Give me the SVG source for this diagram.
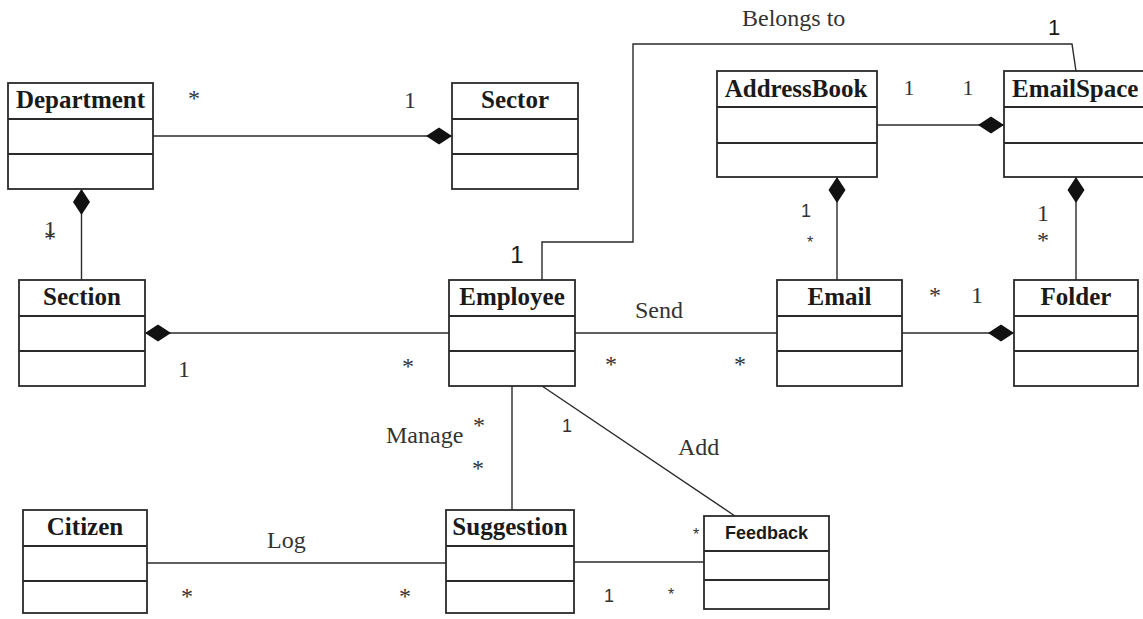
<svg xmlns="http://www.w3.org/2000/svg" width="1143" height="619" viewBox="0 0 1143 619">
  <style>
    .box { fill: #ffffff; stroke: #2a2a2a; stroke-width: 1.8; }
    .div { stroke: #2a2a2a; stroke-width: 1.8; }
    .title { font-family: "Liberation Serif", "Times New Roman", serif; font-weight: bold; font-size: 25px; fill: #1a1a1a; text-anchor: middle; }
    .title-sans { font-family: "Liberation Sans", Arial, sans-serif; font-weight: bold; font-size: 18px; fill: #1a1a1a; text-anchor: middle; }
    .link { fill: none; stroke: #2a2a2a; stroke-width: 1.4; }
    .comp { marker-start: url(#diamond); }
    .lbl { font-family: "Liberation Serif", "Times New Roman", serif; font-size: 24px; fill: #333333; }
    .mult { font-family: "Liberation Serif", "Times New Roman", serif; font-size: 24px; fill: #333333; text-anchor: middle; }
    .mult-s { font-family: "Liberation Sans", Arial, sans-serif; font-size: 18px; fill: #333333; text-anchor: middle; }
    .mult-l { font-family: "Liberation Sans", Arial, sans-serif; font-size: 24px; fill: #1a1a1a; text-anchor: middle; }
  </style>
  <defs>
    <!-- filled composition diamond, drawn from the path start outward -->
    <marker id="diamond" viewBox="0 -9 26 18" refX="0" refY="0" markerWidth="26" markerHeight="18" markerUnits="userSpaceOnUse" orient="auto">
      <path d="M0,0 L13,-8.5 L26,0 L13,8.5 Z" fill="#111111"/>
    </marker>
  </defs>
  <rect x="0" y="0" width="1143" height="619" fill="#ffffff"/>

  <g id="connectors">
    <!-- Department composed into Sector -->
    <path class="link comp" d="M452,136 L153,136"/>
    <!-- Section composed into Department -->
    <path class="link comp" d="M81.5,189 L81.5,280"/>
    <!-- Employee composed into Section -->
    <path class="link comp" d="M145,333 L449,333"/>
    <!-- Employee belongs to EmailSpace -->
    <path class="link" d="M542,280 L542,242 L633,242 L633,44 L1072,44 L1076,71"/>
    <!-- AddressBook composed into EmailSpace -->
    <path class="link comp" d="M1004,125 L877,125"/>
    <!-- Email composed into AddressBook -->
    <path class="link comp" d="M837,177 L837,280"/>
    <!-- Folder composed into EmailSpace -->
    <path class="link comp" d="M1076,177 L1076,280"/>
    <!-- Email composed into Folder -->
    <path class="link comp" d="M1014,333 L902,333"/>
    <!-- Employee sends Email -->
    <path class="link" d="M575,333 L777,333"/>
    <!-- Employee manages Suggestion -->
    <path class="link" d="M512,386 L512,511"/>
    <!-- Employee adds Feedback -->
    <path class="link" d="M542,386 L735,516"/>
    <!-- Citizen logs Suggestion -->
    <path class="link" d="M147,563 L446,563"/>
    <!-- Suggestion to Feedback -->
    <path class="link" d="M574,562 L704,562"/>
  </g>

  <g id="labels">
    <text class="mult" x="194" y="106">*</text>
    <text class="mult" x="410" y="108">1</text>
    <text class="mult" x="50" y="237">1</text>
    <text class="mult" x="50" y="246">*</text>
    <text class="mult" x="184" y="377">1</text>
    <text class="mult" x="408" y="374">*</text>
    <text class="mult-l" x="517" y="263">1</text>
    <text class="lbl" x="742" y="26">Belongs to</text>
    <text class="mult-l" x="1054" y="35" style="font-size:22px">1</text>
    <text class="mult" x="909" y="95" style="font-size:22px">1</text>
    <text class="mult" x="968" y="95" style="font-size:22px">1</text>
    <text class="mult-s" x="806" y="217">1</text>
    <text class="mult-s" x="810" y="248" style="font-size:16px">*</text>
    <text class="mult" x="1043" y="221">1</text>
    <text class="mult" x="1043" y="248">*</text>
    <text class="lbl" x="635" y="318">Send</text>
    <text class="mult" x="611" y="372">*</text>
    <text class="mult" x="740" y="372">*</text>
    <text class="mult" x="935" y="303">*</text>
    <text class="mult" x="977" y="303">1</text>
    <text class="lbl" x="386" y="443">Manage</text>
    <text class="mult" x="479" y="433">*</text>
    <text class="mult" x="478" y="476">*</text>
    <text class="mult-s" x="567" y="432">1</text>
    <text class="lbl" x="678" y="455">Add</text>
    <text class="lbl" x="267" y="548">Log</text>
    <text class="mult" x="187" y="604">*</text>
    <text class="mult" x="405" y="604">*</text>
    <text class="mult-s" x="609" y="602">1</text>
    <text class="mult-s" x="671" y="600" style="font-size:16px">*</text>
    <text class="mult-s" x="696" y="540" style="font-size:16px">*</text>
  </g>

  <g id="node-department">
    <rect class="box" x="8" y="83" width="145" height="106"/>
    <line class="div" x1="8" y1="119" x2="153" y2="119"/>
    <line class="div" x1="8" y1="154" x2="153" y2="154"/>
    <text class="title" x="80.5" y="108">Department</text>
  </g>
  <g id="node-sector">
    <rect class="box" x="452" y="83" width="126" height="106"/>
    <line class="div" x1="452" y1="119" x2="578" y2="119"/>
    <line class="div" x1="452" y1="154" x2="578" y2="154"/>
    <text class="title" x="515" y="108">Sector</text>
  </g>
  <g id="node-addressbook">
    <rect class="box" x="717" y="71" width="160" height="106"/>
    <line class="div" x1="717" y1="107" x2="877" y2="107"/>
    <line class="div" x1="717" y1="143" x2="877" y2="143"/>
    <text class="title" x="796" y="97">AddressBook</text>
  </g>
  <g id="node-emailspace">
    <rect class="box" x="1004" y="71" width="150" height="106"/>
    <line class="div" x1="1004" y1="107" x2="1154" y2="107"/>
    <line class="div" x1="1004" y1="143" x2="1154" y2="143"/>
    <text class="title" x="1012" y="97" style="text-anchor:start">EmailSpace</text>
  </g>
  <g id="node-section">
    <rect class="box" x="19" y="280" width="126" height="106"/>
    <line class="div" x1="19" y1="316" x2="145" y2="316"/>
    <line class="div" x1="19" y1="351" x2="145" y2="351"/>
    <text class="title" x="82" y="305">Section</text>
  </g>
  <g id="node-employee">
    <rect class="box" x="449" y="280" width="126" height="106"/>
    <line class="div" x1="449" y1="316" x2="575" y2="316"/>
    <line class="div" x1="449" y1="351" x2="575" y2="351"/>
    <text class="title" x="512" y="305">Employee</text>
  </g>
  <g id="node-email">
    <rect class="box" x="777" y="280" width="125" height="106"/>
    <line class="div" x1="777" y1="316" x2="902" y2="316"/>
    <line class="div" x1="777" y1="351" x2="902" y2="351"/>
    <text class="title" x="839.5" y="305">Email</text>
  </g>
  <g id="node-folder">
    <rect class="box" x="1014" y="280" width="124" height="106"/>
    <line class="div" x1="1014" y1="316" x2="1138" y2="316"/>
    <line class="div" x1="1014" y1="351" x2="1138" y2="351"/>
    <text class="title" x="1076" y="305">Folder</text>
  </g>
  <g id="node-citizen">
    <rect class="box" x="23" y="510" width="124" height="103"/>
    <line class="div" x1="23" y1="546" x2="147" y2="546"/>
    <line class="div" x1="23" y1="581" x2="147" y2="581"/>
    <text class="title" x="85" y="535">Citizen</text>
  </g>
  <g id="node-suggestion">
    <rect class="box" x="446" y="510" width="128" height="103"/>
    <line class="div" x1="446" y1="546" x2="574" y2="546"/>
    <line class="div" x1="446" y1="581" x2="574" y2="581"/>
    <text class="title" x="510" y="535">Suggestion</text>
  </g>
  <g id="node-feedback">
    <rect class="box" x="704" y="516" width="125" height="93"/>
    <line class="div" x1="704" y1="551" x2="829" y2="551"/>
    <line class="div" x1="704" y1="580" x2="829" y2="580"/>
    <text class="title-sans" x="766.5" y="539">Feedback</text>
  </g>
</svg>
